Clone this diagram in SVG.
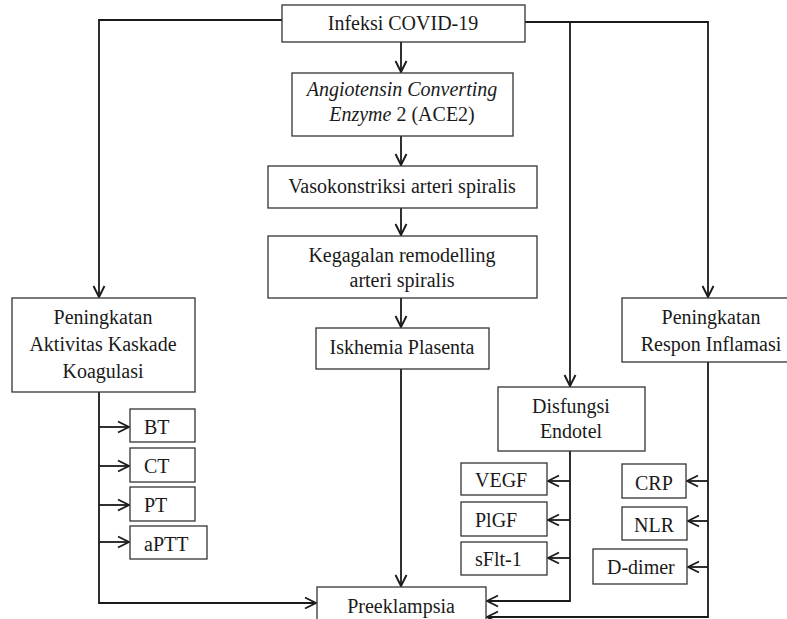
<svg xmlns="http://www.w3.org/2000/svg" width="787" height="619" viewBox="0 0 787 619">
<style>
.box{fill:#fff;stroke:#333;stroke-width:1.3}
.t{font-family:"Liberation Serif","Times New Roman",serif;font-size:20px;fill:#1a1a1a}
.c{text-anchor:middle}
.ln{fill:none;stroke:#1a1a1a;stroke-width:1.8}
</style>
<defs>
<marker id="ah" viewBox="0 0 14 14" refX="12.5" refY="7" markerWidth="14" markerHeight="14" markerUnits="userSpaceOnUse" orient="auto">
<path d="M1.5,1.5 L12.5,7 L1.5,12.5" fill="none" stroke="#1a1a1a" stroke-width="1.9"/>
</marker>
</defs>
<rect width="787" height="619" fill="#fff"/>
<g id="connectors">
<path class="ln" d="M282,20 H99 V297" marker-end="url(#ah)"/>
<path class="ln" d="M525,22 H708 V297" marker-end="url(#ah)"/>
<path class="ln" d="M570,22 V386" marker-end="url(#ah)"/>
<path class="ln" d="M401,42 V72" marker-end="url(#ah)"/>
<path class="ln" d="M401,136 V165" marker-end="url(#ah)"/>
<path class="ln" d="M401,208 V235" marker-end="url(#ah)"/>
<path class="ln" d="M401,298 V327" marker-end="url(#ah)"/>
<path class="ln" d="M401,369 V586" marker-end="url(#ah)"/>
<path class="ln" d="M99,392 V603 H316" marker-end="url(#ah)"/>
<path class="ln" d="M99,427 H129" marker-end="url(#ah)"/>
<path class="ln" d="M99,466 H129" marker-end="url(#ah)"/>
<path class="ln" d="M99,505 H129" marker-end="url(#ah)"/>
<path class="ln" d="M99,542 H129" marker-end="url(#ah)"/>
<path class="ln" d="M570,451 V601 H487" marker-end="url(#ah)"/>
<path class="ln" d="M570,481 H548" marker-end="url(#ah)"/>
<path class="ln" d="M570,520 H548" marker-end="url(#ah)"/>
<path class="ln" d="M570,558 H548" marker-end="url(#ah)"/>
<path class="ln" d="M708,362 V617 H487" marker-end="url(#ah)"/>
<path class="ln" d="M708,481 H687" marker-end="url(#ah)"/>
<path class="ln" d="M708,521 H688" marker-end="url(#ah)"/>
<path class="ln" d="M708,567 H688" marker-end="url(#ah)"/>
</g>
<g id="infeksi"><rect class="box" x="282" y="5" width="243" height="37"/><text class="t c" x="403" y="30">Infeksi COVID-19</text></g>
<g id="ace2"><rect class="box" x="292" y="73" width="221" height="63"/><text class="t c" x="402" y="96"><tspan font-style="italic">Angiotensin Converting</tspan></text><text class="t c" x="402" y="121"><tspan font-style="italic">Enzyme</tspan> 2 (ACE2)</text></g>
<g id="vaso"><rect class="box" x="268" y="166" width="269" height="42"/><text class="t c" x="402" y="193">Vasokonstriksi arteri spiralis</text></g>
<g id="kegagalan"><rect class="box" x="268" y="236" width="269" height="62"/><text class="t c" x="402" y="262">Kegagalan remodelling</text><text class="t c" x="402" y="287">arteri spiralis</text></g>
<g id="iskhemia"><rect class="box" x="316" y="328" width="173" height="41"/><text class="t c" x="402" y="354">Iskhemia Plasenta</text></g>
<g id="koagulasi"><rect class="box" x="12" y="298" width="183" height="94"/><text class="t c" x="103" y="324">Peningkatan</text><text class="t c" x="103" y="351">Aktivitas Kaskade</text><text class="t c" x="103" y="378">Koagulasi</text></g>
<g id="inflamasi"><rect class="box" x="622" y="298" width="180" height="64"/><text class="t c" x="711" y="324">Peningkatan</text><text class="t c" x="711" y="351">Respon Inflamasi</text></g>
<g id="endotel"><rect class="box" x="498" y="387" width="147" height="64"/><text class="t c" x="571" y="413">Disfungsi</text><text class="t c" x="571" y="438">Endotel</text></g>
<g id="bt"><rect class="box" x="130" y="409" width="65" height="33"/><text class="t" x="144" y="434">BT</text></g>
<g id="ct"><rect class="box" x="130" y="448" width="65" height="34"/><text class="t" x="144" y="473">CT</text></g>
<g id="pt"><rect class="box" x="130" y="487" width="65" height="34"/><text class="t" x="144" y="512">PT</text></g>
<g id="aptt"><rect class="box" x="130" y="526" width="77" height="33"/><text class="t" x="144" y="551">aPTT</text></g>
<g id="vegf"><rect class="box" x="461" y="463" width="86" height="32"/><text class="t" x="475" y="487">VEGF</text></g>
<g id="plgf"><rect class="box" x="461" y="502" width="86" height="34"/><text class="t" x="475" y="527">PlGF</text></g>
<g id="sflt"><rect class="box" x="461" y="542" width="86" height="33"/><text class="t" x="475" y="566">sFlt-1</text></g>
<g id="crp"><rect class="box" x="622" y="464" width="64" height="34"/><text class="t" x="635" y="490">CRP</text></g>
<g id="nlr"><rect class="box" x="622" y="507" width="65" height="33"/><text class="t" x="634" y="532">NLR</text></g>
<g id="ddimer"><rect class="box" x="593" y="549" width="94" height="35"/><text class="t" x="607" y="574">D-dimer</text></g>
<g id="preeklampsia"><rect class="box" x="317" y="587" width="169" height="40"/><text class="t c" x="401" y="613">Preeklampsia</text></g>
</svg>
